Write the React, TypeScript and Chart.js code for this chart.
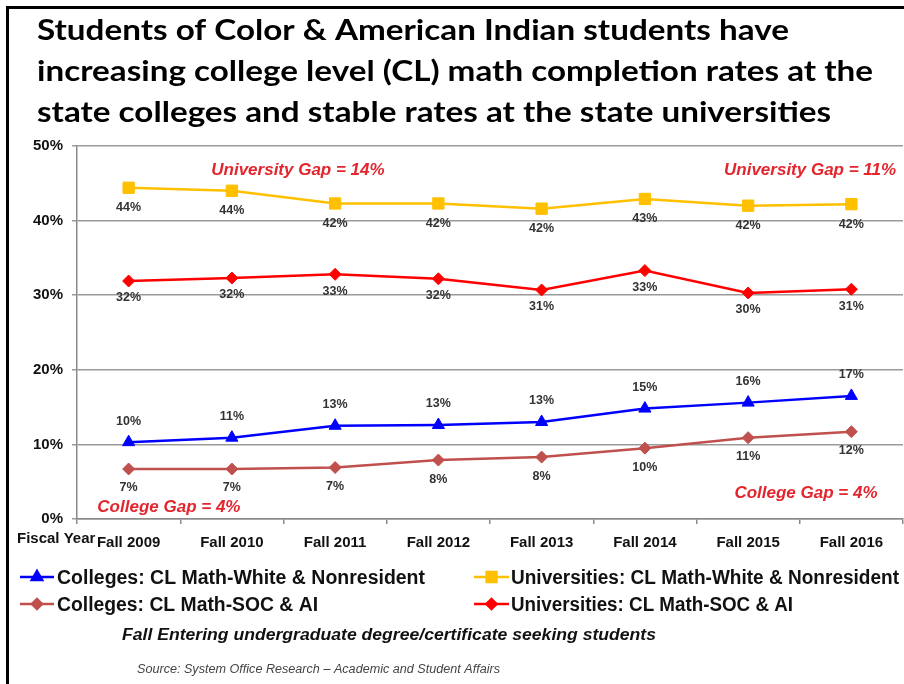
import React, { useEffect, useRef } from 'react';
import { Chart, registerables } from 'chart.js';
import { drawPoint } from 'chart.js/helpers';

Chart.register(...registerables);

// ---------- data ----------
const categories = ['Fall 2009', 'Fall 2010', 'Fall 2011', 'Fall 2012', 'Fall 2013', 'Fall 2014', 'Fall 2015', 'Fall 2016'];
const collegesWhite = [10.3, 10.9, 12.5, 12.6, 13.0, 14.8, 15.6, 16.5];
const universitiesWhite = [44.4, 44.0, 42.3, 42.3, 41.6, 42.9, 42.0, 42.2];
const collegesSOC = [6.7, 6.7, 6.9, 7.9, 8.3, 9.5, 10.9, 11.7];
const universitiesSOC = [31.9, 32.3, 32.8, 32.2, 30.7, 33.3, 30.3, 30.8];
const yMin = 0;
const yMax = 50;
const yStep = 10;

const titleLines = [
  'Students of Color & American Indian students have',
  'increasing college level (CL) math completion rates at the',
  'state colleges and stable rates at the state universities',
];
const seriesNames = [
  'Colleges: CL Math-White & Nonresident',
  'Universities: CL Math-White & Nonresident',
  'Colleges: CL Math-SOC & AI',
  'Universities: CL Math-SOC & AI',
];
const gapTexts = ['University Gap = 14%', 'University Gap = 11%', 'College Gap = 4%', 'College Gap = 4%'];
const gapAnchorIndex = [1.64, 6.6, 0.39, 6.56];
const gapAnchorValue = [46.8, 46.8, 1.6, 3.5];
const axisTitle = 'Fiscal Year';
const footnote = 'Fall Entering undergraduate degree/certificate seeking students';
const sourceNote = 'Source: System Office Research \u2013 Academic and Student Affairs';

// ---------- styles ----------
const SANS = '"Liberation Sans", Arial, Helvetica, sans-serif';
const COLORS = ['#0000ff', '#ffc000', '#c0504d', '#ff0000'];
const SHAPES = ['triangle', 'rect', 'rectRot', 'rectRot'];
const RADII = [7, 8, 6, 6];
const LABEL_OFFSETS = [-21, 20, 19, 17];
// legend: [lineStart, lineEnd, textStart, row y, text width]
const LEGEND_BOX = [
  [20, 54, 57, 577, 368],
  [474, 509, 511, 577, 388],
  [20, 54, 57, 604, 261],
  [474, 509, 511, 604, 282],
];

function fitText(ctx: CanvasRenderingContext2D, text: string, x: number, y: number, font: string, sx: number) {
  ctx.save();
  ctx.font = font;
  ctx.translate(x, y);
  ctx.scale(sx, 1);
  ctx.textAlign = 'left';
  ctx.fillText(text, 0, 0);
  ctx.restore();
}
function scaleFor(ctx: CanvasRenderingContext2D, text: string, font: string, width: number) {
  ctx.save();
  ctx.font = font;
  const w = ctx.measureText(text).width;
  ctx.restore();
  return width / w;
}

const overlay = {
  id: 'overlay',
  afterDraw(chart: any) {
    const ctx: CanvasRenderingContext2D = chart.ctx;
    const xs = chart.scales.x;
    const ys = chart.scales.y;
    ctx.save();

    // frame
    ctx.strokeStyle = '#000';
    ctx.lineWidth = 3;
    ctx.beginPath();
    ctx.moveTo(7.5, 700);
    ctx.lineTo(7.5, 7.5);
    ctx.lineTo(940, 7.5);
    ctx.stroke();

    // title
    ctx.fillStyle = '#000';
    ctx.textBaseline = 'alphabetic';
    const tFont = `bold 28px Lato, "Open Sans", ${SANS}`;
    const tScale = scaleFor(ctx, titleLines[1], tFont, 836);
    const tBase = [40, 81, 122];
    titleLines.forEach((l, i) => fitText(ctx, l, 37, tBase[i], tFont, tScale));

    // data labels
    ctx.font = `bold 12.5px ${SANS}`;
    ctx.fillStyle = '#333';
    ctx.textAlign = 'center';
    ctx.textBaseline = 'middle';
    chart.data.datasets.forEach((ds: any, di: number) => {
      const meta = chart.getDatasetMeta(di);
      meta.data.forEach((pt: any, i: number) => {
        ctx.fillText(Math.round(ds.data[i]) + '%', pt.x, pt.y + LABEL_OFFSETS[di]);
      });
    });

    // gap notes
    ctx.font = `italic bold 17px ${SANS}`;
    ctx.fillStyle = '#e3262e';
    gapTexts.forEach((t, i) => {
      ctx.fillText(t, xs.getPixelForValue(gapAnchorIndex[i]), ys.getPixelForValue(gapAnchorValue[i]));
    });

    // fiscal year
    ctx.font = `bold 15px ${SANS}`;
    ctx.fillStyle = '#111';
    ctx.textAlign = 'left';
    ctx.fillText(axisTitle, 17, 539);

    // legend
    const lFont = `bold 20px ${SANS}`;
    seriesNames.forEach((name, si) => {
      const [l0, l1, tx, y, tw] = LEGEND_BOX[si];
      ctx.strokeStyle = COLORS[si];
      ctx.fillStyle = COLORS[si];
      ctx.lineWidth = 2.5;
      ctx.beginPath();
      ctx.moveTo(l0, y);
      ctx.lineTo(l1, y);
      ctx.stroke();
      drawPoint(ctx, { pointStyle: SHAPES[si], radius: RADII[si] - 1, rotation: 0, borderWidth: 1 } as any, (l0 + l1) / 2, y);
      ctx.fill();
      ctx.fillStyle = '#111';
      ctx.textBaseline = 'middle';
      fitText(ctx, name, tx, y + 1, lFont, scaleFor(ctx, name, lFont, tw));
    });

    // footnotes
    ctx.fillStyle = '#111';
    const fFont = `italic bold 16px ${SANS}`;
    fitText(ctx, footnote, 122, 636, fFont, scaleFor(ctx, footnote, fFont, 534));
    ctx.fillStyle = '#444';
    const sFont = `italic 12px ${SANS}`;
    fitText(ctx, sourceNote, 137, 670, sFont, scaleFor(ctx, sourceNote, sFont, 363));

    ctx.restore();
  },
};

export default function App() {
  const ref = useRef<HTMLCanvasElement | null>(null);
  useEffect(() => {
    if (!ref.current) return;
    const seriesData = [collegesWhite, universitiesWhite, collegesSOC, universitiesSOC];
    const chart = new Chart(ref.current, {
      type: 'line',
      data: {
        labels: categories,
        datasets: seriesData.map((d, i) => ({
          label: seriesNames[i],
          data: d,
          borderColor: COLORS[i],
          backgroundColor: COLORS[i],
          pointBackgroundColor: COLORS[i],
          pointBorderColor: COLORS[i],
          pointStyle: SHAPES[i] as any,
          pointRadius: RADII[i],
          pointBorderWidth: 1,
          borderWidth: 2.5,
          tension: 0,
          fill: false,
        })),
      },
      options: {
        responsive: false,
        animation: false,
        layout: { padding: { left: 0, top: 146, right: 3, bottom: 125 } },
        plugins: {
          legend: { display: false },
          title: { display: false },
          tooltip: { enabled: false },
        },
        scales: {
          x: {
            offset: true,
            grid: { offset: true, drawOnChartArea: false, drawTicks: true, tickLength: 5, color: '#8a8a8a', lineWidth: 1.5 },
            border: { color: '#8a8a8a', width: 1.5 },
            ticks: { font: { family: SANS, size: 15, weight: 'bold' }, color: '#111', padding: 10, maxRotation: 0, autoSkip: false },
            afterFit: (s: any) => { s.height = 40; },
          },
          y: {
            min: yMin,
            max: yMax,
            grid: { color: '#9a9a9a', lineWidth: 1.5, tickLength: 5 },
            border: { color: '#8a8a8a', width: 1.5 },
            ticks: {
              stepSize: yStep,
              font: { family: SANS, size: 15, weight: 'bold' },
              color: '#111',
              padding: 9,
              callback: (v: any) => v + '%',
            },
            afterFit: (s: any) => { s.width = 77; },
          },
        },
      },
      plugins: [overlay],
    });
    return () => chart.destroy();
  }, []);
  return (
    <div style={{ position: 'fixed', left: 0, top: 0, width: 904, height: 684, overflow: 'hidden', background: '#fff' }}>
      <canvas ref={ref} width={912} height={684} style={{ width: 912, height: 684, display: 'block' }} />
    </div>
  );
}
